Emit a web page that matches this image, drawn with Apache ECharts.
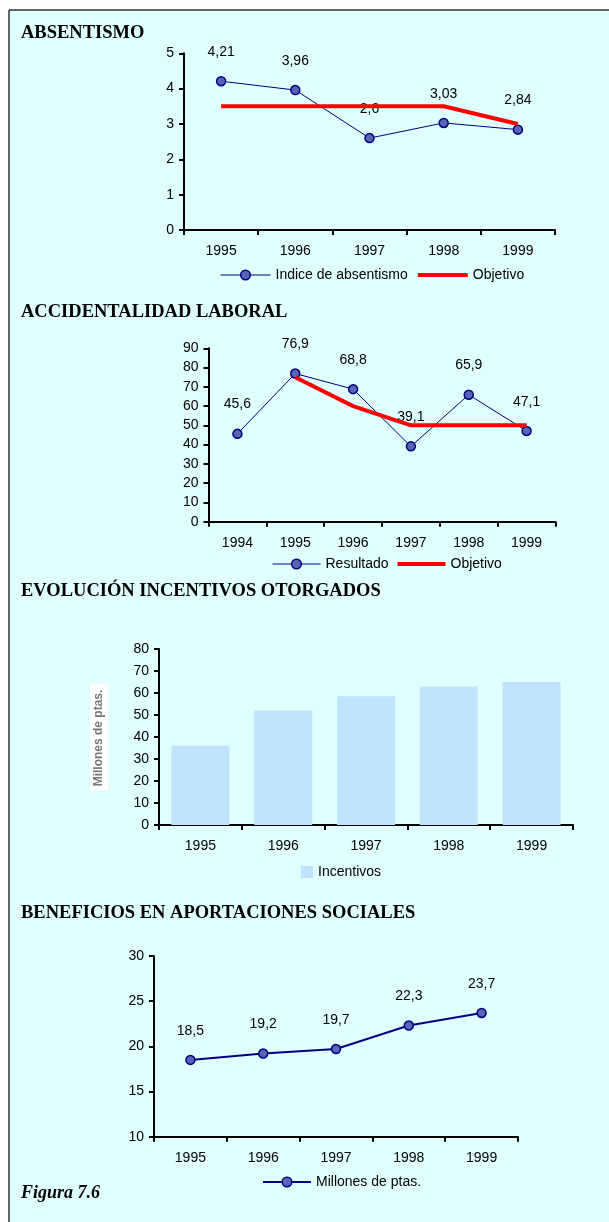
<!DOCTYPE html>
<html>
<head>
<meta charset="utf-8">
<script src="https://cdn.jsdelivr.net/npm/echarts@6/dist/echarts.min.js"></script>
<style>
html,body{margin:0;padding:0;background:#fff;}
#c{width:609px;height:1222px;}
</style>
</head>
<body>
<div id="c"></div>
<script>
// ---- data ----
const titles = ['ABSENTISMO', 'ACCIDENTALIDAD LABORAL', 'EVOLUCIÓN INCENTIVOS OTORGADOS', 'BENEFICIOS EN APORTACIONES SOCIALES'];
const footnote = 'Figura 7.6';

const yearsAbs = ['1995', '1996', '1997', '1998', '1999'];
const indiceAbsentismo = [4.21, 3.96, 2.6, 3.03, 2.84];
const objetivoAbs = [3.5, 3.5, 3.5, 3.5, 3.0];

const yearsAcc = ['1994', '1995', '1996', '1997', '1998', '1999'];
const resultadoAcc = [45.6, 76.9, 68.8, 39.1, 65.9, 47.1];
const objetivoAcc = [null, 75, 60, 50, 50, 50];

const yearsInc = ['1995', '1996', '1997', '1998', '1999'];
const incentivos = [36, 52, 58.5, 63, 65];

const yearsApo = ['1995', '1996', '1997', '1998', '1999'];
const aportaciones = [18.5, 19.2, 19.7, 22.3, 23.7];

// ---- styles ----
const SANS = '"Liberation Sans", Arial, sans-serif';
const SERIF = '"Liberation Serif", "Times New Roman", serif';
const NAVY = '#000080';
const RED = '#ff0000';
const comma = p => String(p.value).replace('.', ',');

function xAx(grid, data) {
  return {
    type: 'category', gridIndex: grid, data: data, boundaryGap: true,
    axisLine: {lineStyle: {color: '#000', width: 2}},
    axisTick: {show: true, length: 5, lineStyle: {color: '#000', width: 2}},
    axisLabel: {color: '#000', fontSize: 14, fontFamily: SANS, margin: 14},
    splitLine: {show: false}
  };
}
function yAx(grid, min, max, interval, extra) {
  return Object.assign({
    type: 'value', gridIndex: grid, min: min, max: max, interval: interval,
    axisLine: {show: true, lineStyle: {color: '#000', width: 2}},
    axisTick: {show: true, length: 5, lineStyle: {color: '#000', width: 2}},
    axisLabel: {color: '#000', fontSize: 14, fontFamily: SANS, margin: 10},
    splitLine: {show: false}
  }, extra || {});
}
const markerStyle = {color: '#5566b4', borderColor: NAVY, borderWidth: 1.5};
const dataLabel = {show: true, position: 'top', distance: 17, color: '#000', fontSize: 14, fontFamily: SANS, formatter: comma};
const legendText = {fontSize: 14, fontFamily: SANS, color: '#000'};
const redLegendItem = {name: 'Objetivo', itemStyle: {color: 'rgba(0,0,0,0)', borderWidth: 0}, lineStyle: {color: RED, width: 4}};
const blueLegendItem = (name, w) => ({name: name, lineStyle: {color: NAVY, width: w}, itemStyle: markerStyle});

const titleTops = [24, 303, 582, 904];
const option = {
  backgroundColor: '#fff',
  animation: false,
  graphic: [
    {type: 'rect', shape: {x: 9, y: 10, width: 600, height: 1212}, style: {fill: '#e0ffff'}, z: -10},
    {type: 'line', shape: {x1: 9, y1: 10, x2: 609, y2: 10}, style: {stroke: '#333', lineWidth: 1.5}, z: -9},
    {type: 'line', shape: {x1: 9, y1: 10, x2: 9, y2: 1222}, style: {stroke: '#333', lineWidth: 1.5}, z: -9}
  ],
  title: titles.map((t, i) => ({
    text: t, left: 21, top: titleTops[i], padding: 0,
    textStyle: {fontFamily: SERIF, fontWeight: 'bold', fontSize: 18.5, color: '#000'}
  })).concat([{
    text: footnote, left: 21, top: 1184, padding: 0,
    textStyle: {fontFamily: SERIF, fontWeight: 'bold', fontStyle: 'italic', fontSize: 18, color: '#000'}
  }]),
  grid: [
    {left: 184, top: 53.3, width: 371, height: 176.7},
    {left: 208.5, top: 348.3, width: 347, height: 173.4},
    {left: 159, top: 649, width: 414, height: 176},
    {left: 154, top: 956, width: 364, height: 180.7}
  ],
  xAxis: [xAx(0, yearsAbs), xAx(1, yearsAcc), xAx(2, yearsInc), xAx(3, yearsApo)],
  yAxis: [
    yAx(0, 0, 5, 1),
    yAx(1, 0, 90, 10),
    yAx(2, 0, 80, 10, {
      name: 'Millones de ptas.', nameLocation: 'middle', nameRotate: 90, nameGap: 51,
      nameTextStyle: {color: '#777', fontSize: 12, fontWeight: 'bold', fontFamily: SANS, backgroundColor: '#fff', padding: [3, 6, 3, 4]}
    }),
    yAx(3, 10, 30, 5)
  ],
  legend: [
    {data: [blueLegendItem('Indice de absentismo', 1), redLegendItem], left: 215, top: 263,
      itemWidth: 50, itemHeight: 12, itemGap: 8, textStyle: legendText},
    {data: [blueLegendItem('Resultado', 1), redLegendItem], left: 267, top: 552,
      itemWidth: 48, itemHeight: 12, itemGap: 7, textStyle: legendText},
    {data: ['Incentivos'], left: 296, top: 860, itemWidth: 12, itemHeight: 12, itemGap: 5, icon: 'rect',
      textStyle: legendText},
    {data: [blueLegendItem('Millones de ptas.', 2)], left: 257, top: 1170, itemWidth: 48, itemHeight: 12,
      textStyle: legendText}
  ],
  series: [
    {name: 'Indice de absentismo', type: 'line', xAxisIndex: 0, yAxisIndex: 0, data: indiceAbsentismo,
      symbol: 'circle', symbolSize: 9, lineStyle: {color: NAVY, width: 1}, itemStyle: markerStyle, label: dataLabel, z: 3},
    {name: 'Objetivo', type: 'line', xAxisIndex: 0, yAxisIndex: 0, data: objetivoAbs,
      symbol: 'none', lineStyle: {color: RED, width: 4}, itemStyle: {color: RED}, z: 4},
    {name: 'Resultado', type: 'line', xAxisIndex: 1, yAxisIndex: 1, data: resultadoAcc,
      symbol: 'circle', symbolSize: 9, lineStyle: {color: NAVY, width: 1}, itemStyle: markerStyle, label: dataLabel, z: 3},
    {name: 'Objetivo', type: 'line', xAxisIndex: 1, yAxisIndex: 1, data: objetivoAcc,
      symbol: 'none', lineStyle: {color: RED, width: 4}, itemStyle: {color: RED}, z: 4},
    {name: 'Incentivos', type: 'bar', xAxisIndex: 2, yAxisIndex: 2, data: incentivos,
      barCategoryGap: '30%', itemStyle: {color: '#c0e4fb'}},
    {name: 'Millones de ptas.', type: 'line', xAxisIndex: 3, yAxisIndex: 3, data: aportaciones,
      symbol: 'circle', symbolSize: 9, lineStyle: {color: NAVY, width: 2}, itemStyle: markerStyle, label: dataLabel}
  ]
};
const chart = echarts.init(document.getElementById('c'), null, {renderer: 'canvas'});
chart.setOption(option);
</script>
</body>
</html>
